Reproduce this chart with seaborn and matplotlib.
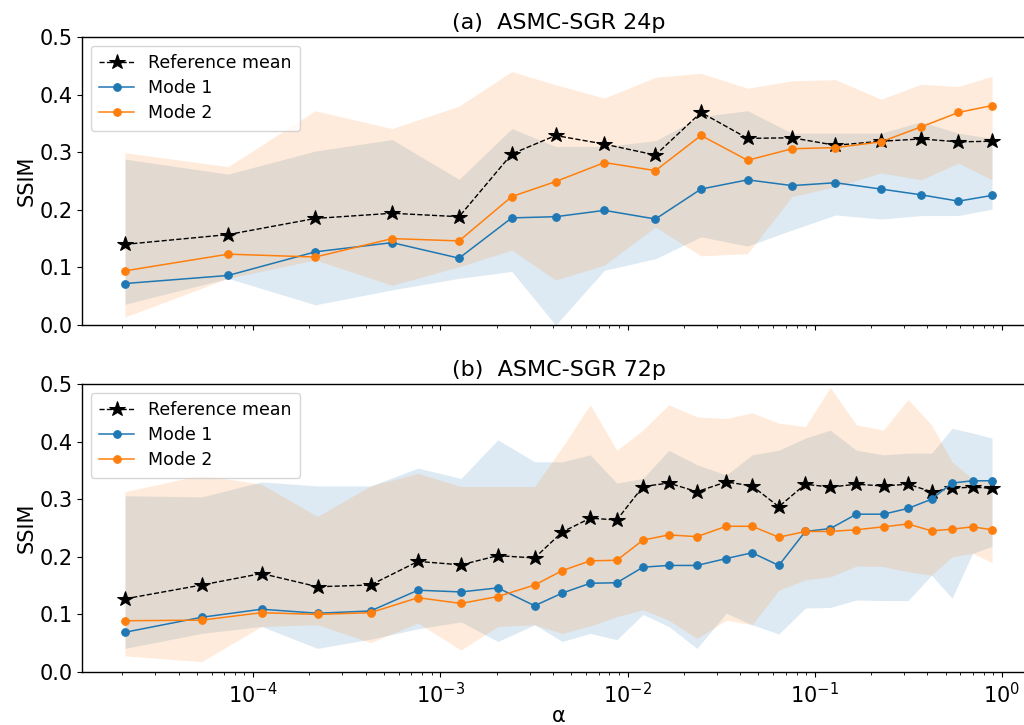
import numpy as np
import matplotlib
matplotlib.use("Agg")
import matplotlib.pyplot as plt
import seaborn as sns

# ---------------- data: panel (a) ASMC-SGR 24p ----------------
alpha_a = [2.07e-5, 7.36e-5, 2.15e-4, 5.53e-4, 1.26e-3, 2.41e-3, 4.13e-3, 7.53e-3,
           1.41e-2, 2.47e-2, 4.38e-2, 7.57e-2, 0.129, 0.226, 0.370, 0.586, 0.885]
ref_a = [0.140, 0.157, 0.185, 0.194, 0.188, 0.297, 0.329, 0.314, 0.295, 0.369,
         0.324, 0.325, 0.312, 0.319, 0.323, 0.318, 0.319]
m1_a = [0.072, 0.086, 0.127, 0.143, 0.116, 0.186, 0.188, 0.199, 0.184, 0.236,
        0.252, 0.242, 0.247, 0.236, 0.226, 0.215, 0.225]
m2_a = [0.094, 0.123, 0.118, 0.150, 0.146, 0.223, 0.249, 0.282, 0.268, 0.329,
        0.286, 0.306, 0.308, 0.318, 0.344, 0.369, 0.381]
m1_lo_a = [0.036, 0.081, 0.035, 0.061, 0.081, 0.093, 0.000, 0.095, 0.115, 0.153,
           0.137, 0.165, 0.191, 0.184, 0.190, 0.190, 0.201]
m1_hi_a = [0.288, 0.262, 0.302, 0.322, 0.253, 0.341, 0.310, 0.310, 0.320, 0.362,
           0.372, 0.333, 0.333, 0.333, 0.353, 0.333, 0.324]
m2_lo_a = [0.014, 0.081, 0.113, 0.069, 0.101, 0.130, 0.078, 0.104, 0.170, 0.120,
           0.124, 0.223, 0.240, 0.264, 0.252, 0.281, 0.252]
m2_hi_a = [0.299, 0.275, 0.372, 0.341, 0.380, 0.440, 0.417, 0.394, 0.430, 0.437,
           0.411, 0.424, 0.426, 0.392, 0.418, 0.414, 0.432]

# ---------------- data: panel (b) ASMC-SGR 72p ----------------
alpha_b = [2.07e-5, 5.31e-5, 1.11e-4, 2.21e-4, 4.24e-4, 7.60e-4, 1.29e-3, 2.03e-3,
           3.19e-3, 4.48e-3, 6.32e-3, 8.77e-3, 1.21e-2, 1.66e-2, 2.35e-2, 3.37e-2,
           4.63e-2, 6.43e-2, 8.91e-2, 0.121, 0.167, 0.233, 0.315, 0.421, 0.541,
           0.697, 0.885]
ref_b = [0.127, 0.151, 0.171, 0.148, 0.151, 0.192, 0.186, 0.202, 0.198, 0.243,
         0.267, 0.264, 0.322, 0.328, 0.313, 0.330, 0.323, 0.287, 0.326, 0.321,
         0.326, 0.323, 0.326, 0.313, 0.319, 0.321, 0.319]
m1_b = [0.069, 0.095, 0.109, 0.102, 0.106, 0.142, 0.139, 0.146, 0.115, 0.137,
        0.154, 0.155, 0.182, 0.185, 0.185, 0.197, 0.207, 0.185, 0.244, 0.249,
        0.274, 0.274, 0.284, 0.300, 0.328, 0.332, 0.332]
m2_b = [0.089, 0.090, 0.103, 0.100, 0.103, 0.129, 0.119, 0.131, 0.151, 0.176,
        0.193, 0.194, 0.229, 0.238, 0.235, 0.253, 0.253, 0.234, 0.244, 0.244,
        0.247, 0.252, 0.257, 0.245, 0.248, 0.252, 0.247]
m1_lo_b = [0.041, 0.067, 0.079, 0.041, 0.057, 0.075, 0.087, 0.053, 0.082, 0.053,
           0.067, 0.056, 0.100, 0.079, 0.041, 0.102, 0.082, 0.066, 0.111, 0.112,
           0.125, 0.124, 0.124, 0.168, 0.128, 0.206, 0.218]
m1_hi_b = [0.306, 0.304, 0.330, 0.323, 0.323, 0.354, 0.336, 0.403, 0.365, 0.365,
           0.377, 0.328, 0.336, 0.385, 0.360, 0.342, 0.377, 0.385, 0.406, 0.420,
           0.385, 0.377, 0.380, 0.380, 0.423, 0.415, 0.406]
m2_lo_b = [0.028, 0.018, 0.079, 0.082, 0.051, 0.085, 0.038, 0.079, 0.082, 0.067,
           0.080, 0.096, 0.108, 0.090, 0.058, 0.090, 0.082, 0.142, 0.160, 0.165,
           0.184, 0.183, 0.174, 0.168, 0.200, 0.206, 0.190]
m2_hi_b = [0.313, 0.342, 0.326, 0.270, 0.323, 0.345, 0.322, 0.322, 0.322, 0.390,
           0.464, 0.385, 0.420, 0.464, 0.443, 0.440, 0.450, 0.432, 0.426, 0.494,
           0.429, 0.420, 0.473, 0.429, 0.365, 0.335, 0.330]

titles = ["(a)  ASMC-SGR 24p", "(b)  ASMC-SGR 72p"]
legend_labels = ["Reference mean", "Mode 1", "Mode 2"]
C1 = "#1f77b4"
C2 = "#ff7f0e"

plt.rcParams['font.family'] = ['DejaVu Sans']
fig = plt.figure(figsize=(10.24, 7.25), dpi=100)
W, H = 1024, 725
def rect(l, t, r, b):
    return [l / W, 1 - b / H, (r - l) / W, (b - t) / H]

ax_a = fig.add_axes(rect(82, 37, 1036, 325))
ax_b = fig.add_axes(rect(82, 384, 1036, 672))

panels = [
    (ax_a, alpha_a, ref_a, m1_a, m2_a, m1_lo_a, m1_hi_a, m2_lo_a, m2_hi_a),
    (ax_b, alpha_b, ref_b, m1_b, m2_b, m1_lo_b, m1_hi_b, m2_lo_b, m2_hi_b),
]

for i, (ax, al, ref, m1, m2, l1, h1, l2, h2) in enumerate(panels):
    ax.fill_between(al, l1, h1, color=C1, alpha=0.15, linewidth=0)
    ax.fill_between(al, l2, h2, color=C2, alpha=0.15, linewidth=0)
    sns.lineplot(x=al, y=ref, ax=ax, color="black", linestyle="--", linewidth=1.0,
                 marker="*", markersize=11.5, markeredgecolor="black",
                 label=legend_labels[0])
    sns.lineplot(x=al, y=m1, ax=ax, color=C1, linewidth=1.1, marker="o",
                 markersize=5.5, markeredgecolor=C1, label=legend_labels[1])
    sns.lineplot(x=al, y=m2, ax=ax, color=C2, linewidth=1.1, marker="o",
                 markersize=5.5, markeredgecolor=C2, label=legend_labels[2])
    ax.set_xscale("log")
    ax.set_xlim(1.22e-5, 1.52)
    ax.set_ylim(0.0, 0.5)
    ax.set_yticks([0.0, 0.1, 0.2, 0.3, 0.4, 0.5])
    ax.set_yticklabels(["0.0", "0.1", "0.2", "0.3", "0.4", "0.5"])
    ax.tick_params(axis="both", labelsize=15)
    ax.set_ylabel("SSIM", fontsize=15, labelpad=2)
    ax.set_title(titles[i], fontsize=16, pad=6)
    ax.legend(loc="upper left", fontsize=12.5, frameon=True, handlelength=2.0,
              borderpad=0.5, labelspacing=0.4)
    for s in ax.spines.values():
        s.set_linewidth(1.0)

ax_a.set_xticklabels([])
ax_a.set_xlabel("")
ax_b.set_xlabel("α", fontsize=15, labelpad=-1)

fig.savefig("out.png", dpi=100)
